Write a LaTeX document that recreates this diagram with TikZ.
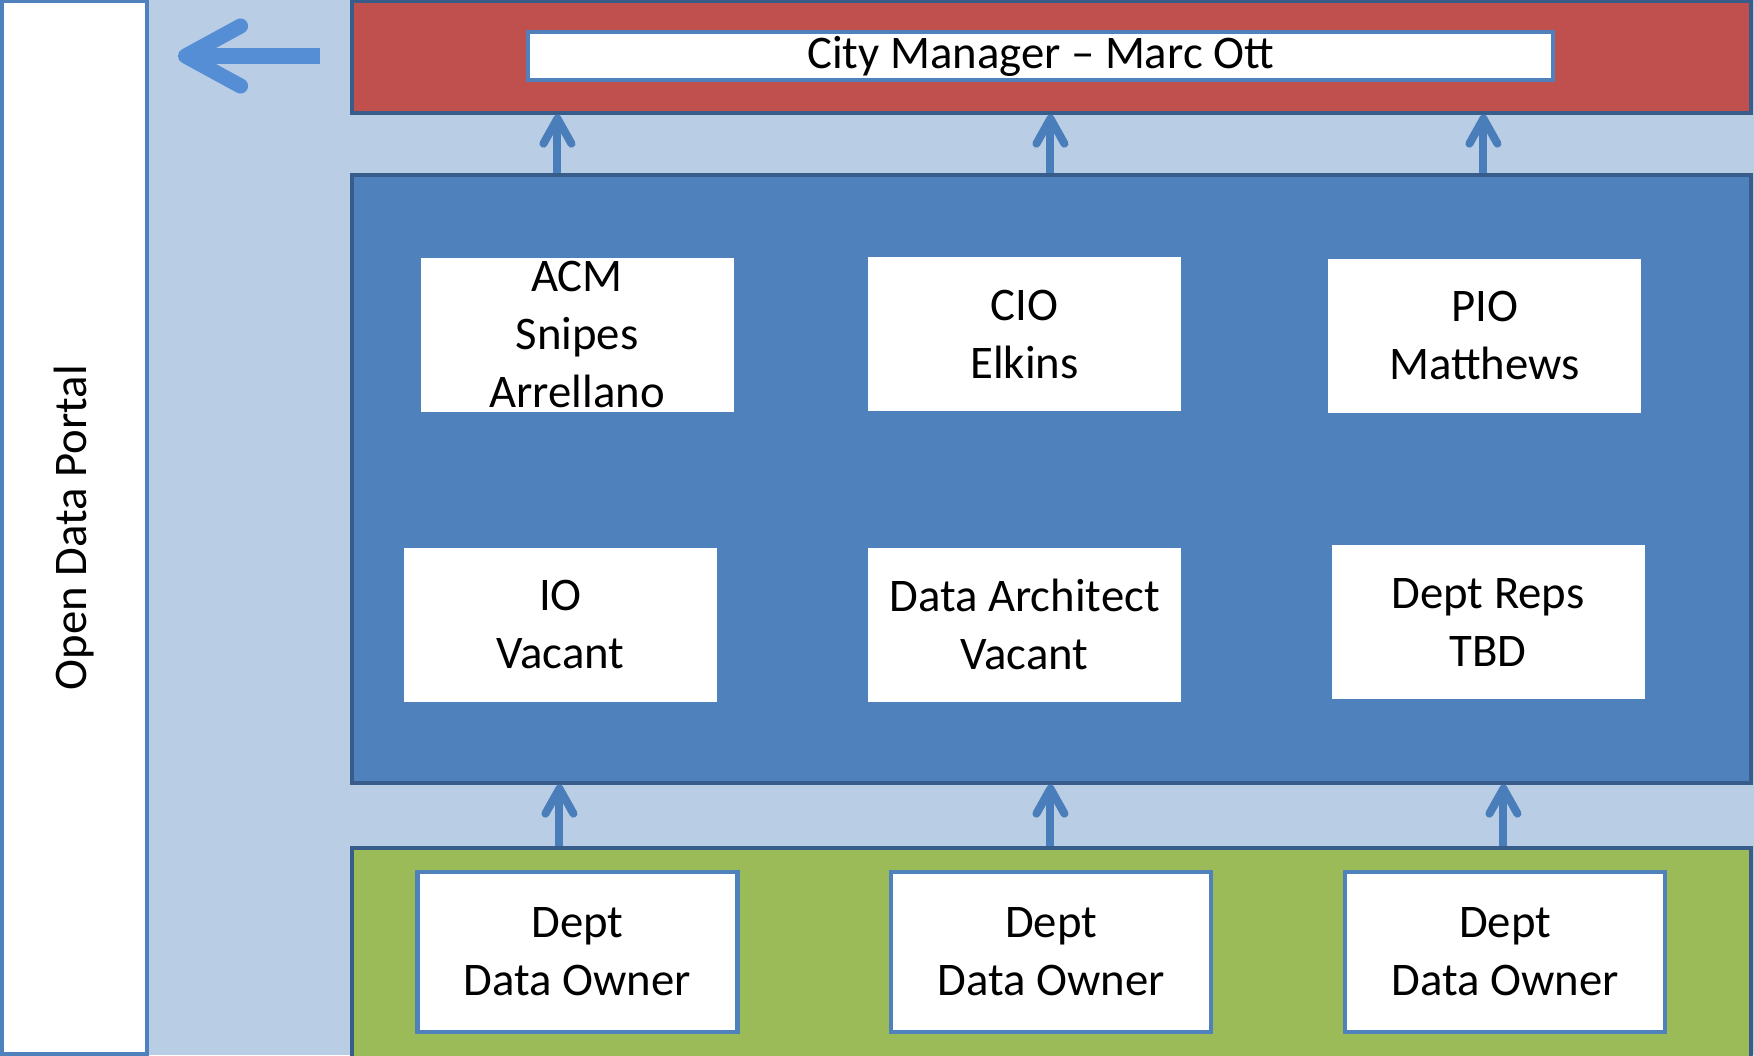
\documentclass[tikz,border=0pt]{standalone}
\usepackage{fontspec}
\setmainfont{Carlito}
\usetikzlibrary{arrows.meta, positioning, calc}
\definecolor{odbg}{HTML}{B9CDE5}
\definecolor{odblue}{HTML}{4F81BD}
\definecolor{odred}{HTML}{C0504D}
\definecolor{odgreen}{HTML}{9BBB59}
\definecolor{odedge}{HTML}{385D8A}
\definecolor{odarrow}{HTML}{4A7EBB}
\definecolor{odportal}{HTML}{558ED5}

\begin{document}
\begin{tikzpicture}[x=0.1mm, y=-0.1mm,
  txt/.style={font=\fontsize{13.3}{16.5}\selectfont, align=center, inner sep=0pt},
  panel/.style={draw=odedge, line width=0.9pt, rectangle, inner sep=0pt},
  rolebox/.style={txt, fill=white, rectangle, minimum width=31.3mm, minimum height=15.4mm},
  ownerbox/.style={txt, fill=white, draw=odblue, line width=1.3pt, rectangle, minimum width=32mm, minimum height=16mm},
  uparrow/.style={draw=odarrow, line width=2.3pt, -{Straight Barb[round, length=2.5mm, width=2.8mm]}},
  portalarrow/.style={draw=odportal, line width=4.3pt, -{Straight Barb[round, length=5.5mm, width=6mm]}}]
% Background
\fill[odbg] (0,0) rectangle (1754,1055);
\useasboundingbox (0,0) rectangle (1754,1055);

% Portal
\node[txt, fill=white, draw=odblue, line width=0.9pt, minimum width=14.5mm, minimum height=105.3mm] (portal) at (74.5,527.5) {};
\node[txt, rotate=90] (portaltext) at (portal.center) {Open Data Portal};
\coordinate (portaltail) at (320,56);
\coordinate (portalhead) at (178,56);
\draw[portalarrow] (portaltail) -- (portalhead);

% Panels
\node[panel, fill=odred, minimum width=139.9mm, minimum height=11.2mm] (cmpanel) at (1051.5,57) {};
\node[panel, fill=odblue, minimum width=139.9mm, minimum height=60.8mm] (teampanel) at (1051.5,479) {};
\node[panel, fill=odgreen, minimum width=139.9mm, minimum height=21.4mm] (deptpanel) at (1051.5,955) {};

% City manager
\node[txt, fill=white, draw=odblue, line width=1.1pt, minimum width=102.5mm, minimum height=4.8mm] (cm) at (1040.5,56) {City Manager -- Marc Ott};

% Team
\node[rolebox] (acm) at (577,334.5) {ACM\\Snipes\\Arrellano};
\node[rolebox] (cio) at (1024.5,334) {CIO\\Elkins};
\node[rolebox] (pio) at (1484.5,335.5) {PIO\\Matthews};
\node[rolebox] (io) at (560.5,624.5) {IO\\Vacant};
\node[rolebox] (arch) at (1024.5,624.5) {Data Architect\\Vacant};
\node[rolebox] (reps) at (1488,622) {Dept Reps\\TBD};

% Departments
\node[ownerbox] (owner1) at (577.5,952) {Dept\\Data Owner};
\node[ownerbox] (owner2) at (1051,952) {Dept\\Data Owner};
\node[ownerbox] (owner3) at (1505,952) {Dept\\Data Owner};

% Arrows
\draw[uparrow] ([xshift=20.7mm]teampanel.north west) -- ([xshift=20.7mm]cmpanel.south west);
\draw[uparrow] ([xshift=70mm]teampanel.north west) -- ([xshift=70mm]cmpanel.south west);
\draw[uparrow] ([xshift=113.3mm]teampanel.north west) -- ([xshift=113.3mm]cmpanel.south west);
\draw[uparrow] ([xshift=20.9mm]deptpanel.north west) -- ([xshift=20.9mm]teampanel.south west);
\draw[uparrow] ([xshift=70mm]deptpanel.north west) -- ([xshift=70mm]teampanel.south west);
\draw[uparrow] ([xshift=115.3mm]deptpanel.north west) -- ([xshift=115.3mm]teampanel.south west);
\end{tikzpicture}
\end{document}
